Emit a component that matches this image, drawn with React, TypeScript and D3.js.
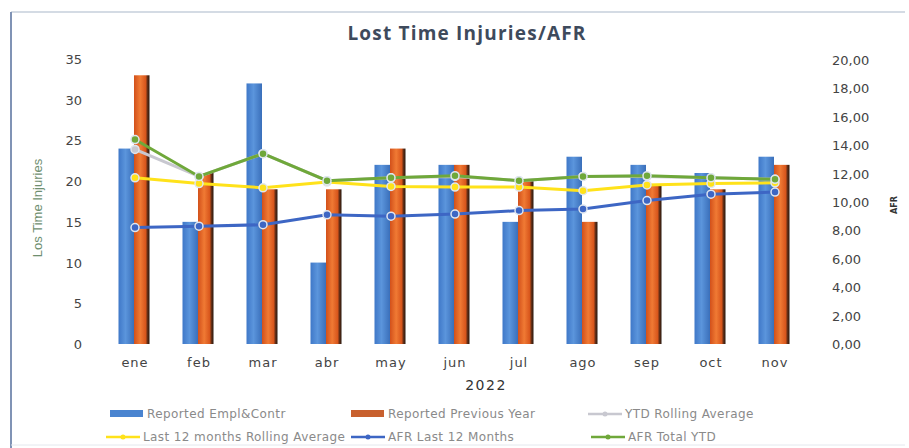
import { useEffect, useRef } from "react";
import * as d3 from "d3";

const months = ["ene", "feb", "mar", "abr", "may", "jun", "jul", "ago", "sep", "oct", "nov"];
const reportedEmpl = [24, 15, 32, 10, 22, 22, 15, 23, 22, 21, 23];
const reportedPrev = [33, 21, 19, 19, 24, 22, 20, 15, 19.5, 19, 22];
const ytdRolling = [13.7, 11.8, 13.4, 11.5, 11.7, 11.8, 11.5, 11.8, 11.8, 11.7, 11.6];
const last12Rolling = [11.7, 11.3, 11.0, 11.4, 11.1, 11.05, 11.05, 10.8, 11.2, 11.3, 11.35];
const afrLast12 = [8.2, 8.3, 8.4, 9.1, 9.0, 9.15, 9.4, 9.5, 10.1, 10.55, 10.7];
const afrTotalYtd = [14.4, 11.8, 13.4, 11.5, 11.7, 11.85, 11.5, 11.8, 11.85, 11.7, 11.6];
const leftTicks = [0, 5, 10, 15, 20, 25, 30, 35];
const rightTicks = [0, 2, 4, 6, 8, 10, 12, 14, 16, 18, 20];

const W = 909;
const H = 448;
const plot = { left: 103, right: 807, top: 59, bottom: 344 };

const App = () => {
  const ref = useRef<SVGSVGElement>(null);

  useEffect(() => {
    const svg = d3.select(ref.current);
    svg.selectAll("*").remove();

    const defs = svg.append("defs");
    const gBlue = defs.append("linearGradient").attr("id", "gBlue");
    gBlue.append("stop").attr("offset", "0%").attr("stop-color", "#3f78c8");
    gBlue.append("stop").attr("offset", "45%").attr("stop-color", "#5b95dc");
    gBlue.append("stop").attr("offset", "100%").attr("stop-color", "#3a6fba");
    const gOrange = defs.append("linearGradient").attr("id", "gOrange");
    gOrange.append("stop").attr("offset", "0%").attr("stop-color", "#d2501a");
    gOrange.append("stop").attr("offset", "40%").attr("stop-color", "#f07a34");
    gOrange.append("stop").attr("offset", "75%").attr("stop-color", "#d8561c");
    gOrange.append("stop").attr("offset", "88%").attr("stop-color", "#5a2a14");
    gOrange.append("stop").attr("offset", "100%").attr("stop-color", "#2a1a10");

    // frame
    svg.append("rect").attr("width", W).attr("height", H).attr("fill", "#fff");
    svg.append("line").attr("x1", 11).attr("x2", 905).attr("y1", 12).attr("y2", 12)
      .attr("stroke", "#d4dbe4").attr("stroke-width", 2);
    svg.append("line").attr("x1", 11).attr("x2", 11).attr("y1", 12).attr("y2", H)
      .attr("stroke", "#8093b5").attr("stroke-width", 2);
    svg.append("line").attr("x1", 11).attr("x2", 905).attr("y1", 445).attr("y2", 445)
      .attr("stroke", "#e4e8ee").attr("stroke-width", 1);

    svg.append("text").attr("x", 467).attr("y", 40).attr("text-anchor", "middle")
      .attr("font-family", "Open Sans").attr("font-weight", "bold").attr("font-size", 19)
      .attr("letter-spacing", 1.2).attr("fill", "#3e4a5c").text("Lost Time Injuries/AFR");

    const x = d3.scaleBand().domain(months).range([plot.left, plot.right]);
    const yL = d3.scaleLinear().domain([0, 35]).range([plot.bottom, plot.top]);
    const yR = d3.scaleLinear().domain([0, 20]).range([plot.bottom, plot.top + 1]);
    const barW = 15.5;

    // left ticks
    svg.append("g").selectAll("text").data(leftTicks).join("text")
      .attr("x", 82).attr("y", (d) => yL(d) + 5).attr("text-anchor", "end")
      .attr("font-family", "DejaVu Sans").attr("font-size", 13).attr("fill", "#444")
      .text((d) => d);
    // right ticks
    const fmt = (d: number) => d3.format(".2f")(d).replace(".", ",");
    svg.append("g").selectAll("text").data(rightTicks).join("text")
      .attr("x", 832).attr("y", (d) => yR(d) + 5)
      .attr("font-family", "DejaVu Sans").attr("font-size", 13).attr("fill", "#444")
      .text((d) => fmt(d));

    svg.append("text").attr("transform", "translate(42,208) rotate(-90)")
      .attr("text-anchor", "middle").attr("font-family", "Liberation Sans Narrow, Liberation Sans")
      .attr("font-size", 13).attr("fill", "#6f8f70").text("Los Time Injuries");
    svg.append("text").attr("transform", "translate(897,205) rotate(-90)")
      .attr("text-anchor", "middle").attr("font-family", "DejaVu Sans").attr("font-weight", "bold")
      .attr("font-size", 8).attr("fill", "#333").text("AFR");

    // bars
    const cx = (m: string) => (x(m) as number) + x.bandwidth() / 2;
    svg.append("g").selectAll("rect").data(reportedEmpl).join("rect")
      .attr("x", (_, i) => cx(months[i]) - barW - 1).attr("width", barW)
      .attr("y", (d) => yL(d)).attr("height", (d) => yL(0) - yL(d))
      .attr("fill", "url(#gBlue)");
    svg.append("g").selectAll("rect").data(reportedPrev).join("rect")
      .attr("x", (_, i) => cx(months[i]) - 1).attr("width", barW)
      .attr("y", (d) => yL(d)).attr("height", (d) => yL(0) - yL(d))
      .attr("fill", "url(#gOrange)");

    // x labels
    svg.append("g").selectAll("text").data(months).join("text")
      .attr("x", (d) => cx(d)).attr("y", 367).attr("text-anchor", "middle")
      .attr("font-family", "DejaVu Sans").attr("font-size", 13).attr("fill", "#444")
      .attr("letter-spacing", 1).text((d) => d);
    svg.append("text").attr("x", 486).attr("y", 390).attr("text-anchor", "middle")
      .attr("font-family", "DejaVu Sans").attr("font-size", 14).attr("letter-spacing", 1.5)
      .attr("fill", "#333").text("2022");

    // lines
    const series = [
      { vals: ytdRolling, color: "#c8c8d0" },
      { vals: last12Rolling, color: "#ffe21a" },
      { vals: afrLast12, color: "#3d66c4" },
      { vals: afrTotalYtd, color: "#6fa83a" },
    ];
    const line = d3.line<number>().x((_, i) => cx(months[i])).y((d) => yR(d));
    series.forEach((s) => {
      const g = svg.append("g");
      g.append("path").datum(s.vals).attr("d", line).attr("fill", "none")
        .attr("stroke", s.color).attr("stroke-width", 3);
      g.selectAll("circle").data(s.vals).join("circle")
        .attr("cx", (_, i) => cx(months[i])).attr("cy", (d) => yR(d)).attr("r", 4)
        .attr("fill", s.color).attr("stroke", "#dfe6f0").attr("stroke-width", 1.5);
    });

    // legend
    const lg = svg.append("g").attr("font-family", "DejaVu Sans").attr("font-size", 12)
      .attr("letter-spacing", 0.4).attr("fill", "#8a8a8a");
    const legendItems = [
      { label: "Reported Empl&Contr", type: "bar", color: "#4a84d0", x: 110, y: 414 },
      { label: "Reported Previous Year", type: "bar", color: "#c8602e", x: 351, y: 414 },
      { label: "YTD Rolling Average", type: "line", color: "#c8c8d0", x: 588, y: 414 },
      { label: "Last 12 months Rolling Average", type: "line", color: "#ffe21a", x: 106, y: 437 },
      { label: "AFR Last 12 Months", type: "line", color: "#3d66c4", x: 351, y: 437 },
      { label: "AFR Total YTD", type: "line", color: "#6fa83a", x: 591, y: 437 },
    ];
    legendItems.forEach((it) => {
      if (it.type === "bar") {
        lg.append("rect").attr("x", it.x).attr("y", it.y - 4).attr("width", 33).attr("height", 7).attr("fill", it.color);
      } else {
        lg.append("line").attr("x1", it.x).attr("x2", it.x + 34).attr("y1", it.y).attr("y2", it.y)
          .attr("stroke", it.color).attr("stroke-width", 2.5);
        lg.append("circle").attr("cx", it.x + 17).attr("cy", it.y).attr("r", 2.5).attr("fill", it.color);
      }
      lg.append("text").attr("x", it.x + 37).attr("y", it.y + 4).text(it.label);
    });
  }, []);

  return (
    <svg ref={ref} width={W} height={H} style={{ position: "absolute", left: 0, top: 0 }} />
  );
};

export default App;
